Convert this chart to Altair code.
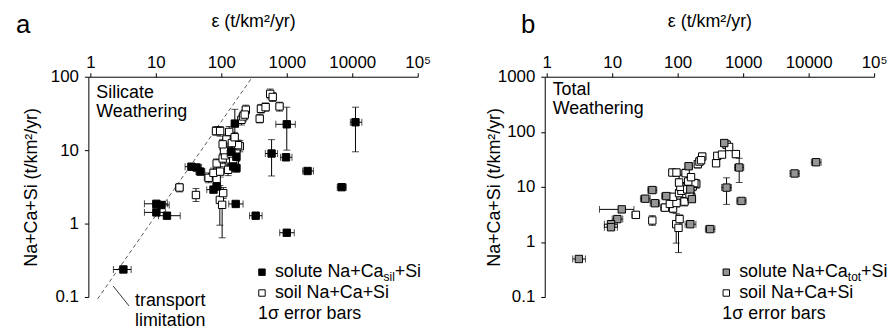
import altair as alt
import pandas as pd

FONT = "Liberation Sans"

# ---------------- soil Na+Ca+Si (same in both panels) ----------------
soil_eps = [23, 41, 95, 103, 107, 64, 85, 76, 96, 127, 85, 161, 127, 170, 192, 120, 132, 83, 96,
            203, 215, 237, 386, 775, 403, 475, 558, 610, 105, 114, 152, 180, 145, 110, 140, 105, 228, 160]
soil_val = [3.1, 2.45, 2.1, 1.8, 2.6, 4.2, 4.05, 4.9, 5.1, 5.4, 6.6, 6.6, 7.5, 10.2, 11.3, 14, 17.7, 18.2, 18.2,
            25.9, 28.8, 35.5, 26.8, 39.4, 36.6, 38.5, 58.4, 53, 7.7, 8.5, 7.3, 11.7, 12.5, 10, 9, 12, 30.5, 15]
soil_eps_lo = [20, 37, 86, 93, 97, 55, 76, 68, 85, 112, 76, 142, 112, 150, 170, 106, 117, 74, 85,
               180, 190, 210, 345, 690, 360, 425, 500, 545, 94, 102, 136, 160, 130, 98, 125, 94, 203, 143]
soil_eps_hi = [26, 45, 105, 113, 118, 74, 95, 85, 108, 144, 95, 182, 144, 192, 217, 136, 149, 93, 108,
               229, 243, 268, 432, 870, 451, 532, 625, 683, 117, 128, 170, 202, 162, 123, 157, 117, 256, 179]
soil_val_lo = [2.7, 2.0, 0.95, 0.64, 2.2, 3.6, 3.4, 4.2, 4.3, 4.5, 5.7, 5.5, 6.2, 8.5, 9.5, 11.8, 15, 16, 15.5,
               22, 24.5, 31, 23.5, 34, 32, 34, 50, 46, 6.6, 7.3, 6.2, 10, 10.8, 8.5, 7.6, 10.2, 26, 12.8]
soil_val_hi = [3.5, 3.0, 3.3, 2.4, 3.1, 4.9, 4.8, 5.7, 6.0, 6.4, 7.6, 7.9, 9.0, 12.2, 13.5, 16.5, 21, 21, 21,
               30, 34, 41, 30.5, 45, 42, 44, 68, 61, 9.0, 9.9, 8.6, 13.7, 14.5, 11.8, 10.6, 14, 35, 17.5]

# ---------------- panel a: solute Na+Ca_sil+Si ----------------
sil_eps = [3.2, 10.2, 12.2, 10.2, 14.8, 35, 42, 48, 76, 85, 161, 170, 170, 143, 152, 166, 335, 1000,
           586, 1000, 973, 2080, 6890, 11200]
sil_val = [0.237, 1.86, 1.79, 1.42, 1.28, 5.95, 5.8, 5.1, 2.9, 3.2, 23, 8.1, 5.7, 9.5, 6.0, 1.85, 1.28, 0.75,
           9.0, 22.5, 8.0, 5.2, 3.13, 24]
sil_eps_lo = [2.25, 6.7, 9, 6.7, 11, 28, 36, 41, 60, 75, 145, 150, 150, 128, 136, 130, 270, 780,
              470, 680, 800, 1750, 5900, 9350]
sil_eps_hi = [4.2, 15, 16, 14, 23.6, 44, 50, 56, 100, 96, 180, 192, 192, 160, 170, 215, 420, 1300,
              720, 1350, 1200, 2550, 8100, 14000]
sil_val_lo = [0.225, 1.7, 1.65, 1.3, 1.2, 5.5, 5.3, 4.7, 2.7, 2.95, 12.4, 7.0, 5.0, 8.3, 5.3, 1.75, 1.22, 0.71,
              4.45, 10, 7.2, 4.9, 3.0, 9.5]
sil_val_hi = [0.25, 2.0, 1.95, 1.55, 1.36, 6.5, 6.4, 5.5, 3.1, 3.45, 36, 9.4, 6.4, 10.8, 6.7, 1.95, 1.34, 0.79,
              13.9, 38.5, 8.8, 5.5, 3.3, 38.5]

# ---------------- panel b: solute Na+Ca_tot+Si ----------------
tot_eps = [3.1, 14, 12, 9.6, 9.6, 41, 32, 45, 67, 156, 313, 147, 156, 165, 515, 558, 942, 870, 6100, 13000]
tot_val = [0.49, 3.9, 2.6, 2.1, 1.85, 8.75, 6.1, 5.05, 6.8, 2.1, 1.71, 23.7, 9.0, 6.0, 62.5, 9.7, 5.55, 22.5, 17.5, 28]
tot_eps_lo = [2.5, 6.4, 10, 7.6, 7.6, 35, 27, 38, 57, 130, 265, 130, 138, 146, 455, 470, 800, 740, 5200, 11000]
tot_eps_hi = [3.9, 21.5, 14.5, 12, 12, 48, 38, 53, 79, 190, 370, 166, 176, 186, 580, 660, 1110, 1020, 7200, 15500]
tot_val_lo = [0.46, 3.6, 2.4, 1.95, 1.72, 8.0, 5.6, 4.6, 6.2, 1.98, 1.62, 21, 8.0, 5.4, 56, 4.8, 5.2, 12, 16.5, 26]
tot_val_hi = [0.52, 4.2, 2.8, 2.25, 2.0, 9.6, 6.6, 5.5, 7.4, 2.24, 1.8, 26.5, 10.2, 6.7, 70, 14.6, 5.9, 33, 18.5, 30.5]

# transport-limitation line (panel a)
trans_eps = [1.29, 300]
trans_val = [0.094, 100]

x_ticks = [1, 10, 100, 1000, 10000, 100000]
ya_ticks = [0.1, 1, 10, 100]
yb_ticks = [0.1, 1, 10, 100, 1000]

W, H = 332, 222
GREY = "#959595"


def make_axes(y_domain, y_ticks, y_title_pad):
    xs = alt.Scale(type="log", domain=[0.933, 100000], nice=False)
    xa = alt.Axis(orient="top", values=x_ticks, title="ε (t/km²/yr)",
                  labelExpr="datum.value >= 100000 ? '10⁵' : format(datum.value, 'd')",
                  grid=False, tickSize=4, labelPadding=1, titlePadding=24,
                  labelFlush=False, labelOverlap=False)
    ys = alt.Scale(type="log", domain=y_domain, nice=False)
    ya = alt.Axis(orient="left", values=y_ticks, title="Na+Ca+Si (t/km²/yr)",
                  labelExpr="datum.value < 1 ? '0.1' : format(datum.value, 'd')",
                  grid=False, tickSize=4, labelPadding=6, titlePadding=y_title_pad,
                  labelFlush=False, labelOverlap=False)
    return xs, xa, ys, ya


def series_layers(eps, val, elo, ehi, vlo, vhi, xs, xa, ys, ya):
    df = pd.DataFrame(dict(eps=eps, val=val, elo=elo, ehi=ehi, vlo=vlo, vhi=vhi))
    base = alt.Chart(df)

    def X(f):
        return alt.X(f, type="quantitative", scale=xs, axis=xa)

    def Y(f):
        return alt.Y(f, type="quantitative", scale=ys, axis=ya)

    xr = base.mark_rule(color="black", strokeWidth=1).encode(x=X("elo"), x2="ehi", y=Y("val"))
    yr = base.mark_rule(color="black", strokeWidth=1).encode(x=X("eps"), y=Y("vlo"), y2="vhi")
    caps = []
    for f in ["elo", "ehi"]:
        caps.append(base.mark_tick(orient="vertical", size=7, thickness=1, color="black")
                    .encode(x=X(f), y=Y("val")))
    for f in ["vlo", "vhi"]:
        caps.append(base.mark_tick(orient="horizontal", size=7, thickness=1, color="black")
                    .encode(x=X("eps"), y=Y(f)))
    return [xr, yr] + caps, base, X, Y


def squares(base, X, Y, fill):
    return base.mark_square(size=55, fill=fill, stroke="black", strokeWidth=1, opacity=1).encode(
        x=X("eps"), y=Y("val"))


def txt(s, x, y, size=18, align="left", baseline="alphabetic", line_height=20):
    return alt.Chart(pd.DataFrame({"t": [s]})).mark_text(
        font=FONT, fontSize=size, align=align, baseline=baseline, color="black",
        lineBreak="\n", lineHeight=line_height).encode(
        text="t:N", x=alt.value(x), y=alt.value(y))


def legend_square(x, y, fill):
    return alt.Chart(pd.DataFrame({"k": [0]})).mark_square(
        size=42, fill=fill, stroke="black", strokeWidth=1, opacity=1).encode(
        x=alt.value(x), y=alt.value(y))


def legend_block(sq_x, txt_x, sub, sol_fill, err_x):
    w_main = 6.086 * 18
    w_sub = {"sil": 0.944 * 12, "tot": 1.112 * 12}[sub]
    r1, r2, r3 = 197, 218, 239
    return [
        legend_square(sq_x, r1, sol_fill),
        txt("solute Na+Ca", txt_x, r1, baseline="middle"),
        txt(sub, txt_x + w_main, r1 + 5, size=12, baseline="middle"),
        txt("+Si", txt_x + w_main + w_sub, r1, baseline="middle"),
        legend_square(sq_x, r2, "white"),
        txt("soil Na+Ca+Si", txt_x, r2, baseline="middle"),
        txt("1σ error bars", err_x, r3, baseline="middle"),
    ]


# ---------------- panel a ----------------
xs, xa, ys, ya = make_axes([0.1, 100], ya_ticks, 10)
soil_err_a, soil_base_a, Xa, Ya = series_layers(soil_eps, soil_val, soil_eps_lo, soil_eps_hi,
                                                soil_val_lo, soil_val_hi, xs, xa, ys, ya)
sil_err, sil_base, _, _ = series_layers(sil_eps, sil_val, sil_eps_lo, sil_eps_hi,
                                        sil_val_lo, sil_val_hi, xs, xa, ys, ya)
trans = alt.Chart(pd.DataFrame({"eps": trans_eps, "val": trans_val})).mark_line(
    color="#333333", strokeWidth=0.8, strokeDash=[4, 3], clip=False).encode(x=Xa("eps"), y=Ya("val"))
leader = alt.Chart(pd.DataFrame({"k": [0]})).mark_rule(color="black", strokeWidth=0.8).encode(
    x=alt.value(25), y=alt.value(211), x2=alt.value(41), y2=alt.value(231))

panel_a = alt.layer(
    trans, *sil_err, *soil_err_a,
    squares(soil_base_a, Xa, Ya, "white"),
    squares(sil_base, Xa, Ya, "black"),
    leader,
    txt("a", -73, -44, size=26),
    txt("Silicate\nWeathering", 8, 21),
    txt("transport\nlimitation", 47, 231),
    *legend_block(175, 188, "sil", "black", 171),
).properties(width=W, height=H)

# ---------------- panel b ----------------
xs, xa, ys, ya = make_axes([0.1, 1000], yb_ticks, -6)
soil_err_b, soil_base_b, Xb, Yb = series_layers(soil_eps, soil_val, soil_eps_lo, soil_eps_hi,
                                                soil_val_lo, soil_val_hi, xs, xa, ys, ya)
tot_err, tot_base, _, _ = series_layers(tot_eps, tot_val, tot_eps_lo, tot_eps_hi,
                                        tot_val_lo, tot_val_hi, xs, xa, ys, ya)
panel_b = alt.layer(
    *tot_err, *soil_err_b,
    squares(soil_base_b, Xb, Yb, "white"),
    squares(tot_base, Xb, Yb, GREY),
    txt("b", -24, -44, size=26),
    txt("Total\nWeathering", 8, 18),
    *legend_block(183, 196, "tot", GREY, 179),
).properties(width=W, height=H)

chart = alt.hconcat(panel_a, panel_b, spacing=128, bounds="flush").properties(
    padding={"left": 8, "top": 3, "right": 0, "bottom": 0}
).configure_view(stroke=None).configure_axis(
    domainColor="black", tickColor="black", labelColor="black", titleColor="black",
    labelFont=FONT, titleFont=FONT, labelFontSize=17, titleFontSize=18,
    titleFontWeight="normal", domainWidth=1, tickWidth=1
)

chart.save("out.html", embed_options={"renderer": "svg", "actions": False})
